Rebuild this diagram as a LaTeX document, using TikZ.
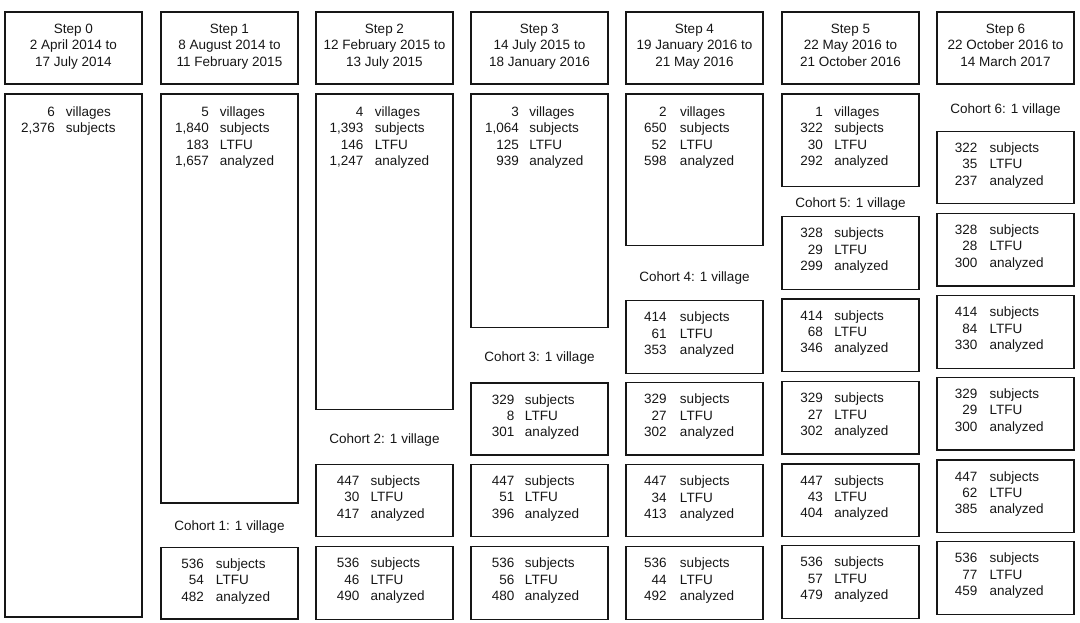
\documentclass[tikz,border=0pt]{standalone}
\usepackage{fontspec}
\setmainfont{Liberation Sans}
\definecolor{ink}{HTML}{161616}
\newlength\gapw
\newcommand\rw[2]{\makebox[40pt][r]{#1}\hspace{\gapw}#2}
% \bx{name}{x0}{ytop}{ybot}
\newcommand\bx[4]{\node[boxst, minimum height={(#4-#3)*1pt}] (#1) at ({#2+68.5},{(#3+#4)/2}) {};}
% \tx{name}{x0}{ytop}{baseoffset}{numoff}{laboff}{rows}
\newcommand\tx[7]{\setlength\gapw{\dimexpr #6pt-#5pt\relax}\node[txt, anchor=base west] (#1) at ({#2+#5-40},{#3+#4}) {\begin{tabular}[t]{@{}l@{}}#7\end{tabular}};}
\begin{document}
\begin{tikzpicture}[x=1pt,y=-1pt,
  boxst/.style={draw=ink, line width=1.35pt, minimum width=137pt, inner sep=0pt, outer sep=0pt},
  txt/.style={inner sep=0pt, outer sep=0pt, text=ink, font=\fontsize{13.5}{16.4}\selectfont},
  hdtxt/.style={inner sep=0pt, outer sep=0pt, text=ink, font=\fontsize{13.5}{16.7}\selectfont, anchor=base},
  cohort/.style={inner sep=0pt, outer sep=0pt, text=ink, font=\fontsize{13.5}{16}\selectfont, anchor=base}]
\useasboundingbox (0,0) rectangle (1080,623);
% headers
\foreach \i/\xx/\a/\b in {0/5/2 April 2014 to/17 July 2014,
  1/161/8 August 2014 to/11 February 2015,
  2/316/12 February 2015 to/13 July 2015,
  3/471/14 July 2015 to/18 January 2016,
  4/626/19 January 2016 to/21 May 2016,
  5/782/22 May 2016 to/21 October 2016,
  6/937/22 October 2016 to/14 March 2017}{
  \node[boxst, minimum height=72pt] (h\i) at ({\xx+68.5},48) {};
  \node[hdtxt] (ht\i) at ({\xx+68.5},33.3) {\begin{tabular}[t]{@{}c@{}}Step \i\\\a\\\b\end{tabular}};
}
% column 0
\bx{b0}{5}{94}{617}
\tx{t0}{5}{94}{22.5}{50}{61}{\rw{6}{villages}\\\rw{2,376}{subjects}}
% column 1
\bx{b1}{161}{94}{503}
\tx{t1}{161}{94}{22.5}{48}{59}{\rw{5}{villages}\\\rw{1,840}{subjects}\\\rw{183}{LTFU}\\\rw{1,657}{analyzed}}
\node[cohort] (c1) at (229.5,530.7) {Cohort 1: 1 village};
\bx{b1a}{161}{547.3}{619}
\tx{t1a}{161}{547.3}{21}{43}{55}{\rw{536}{subjects}\\\rw{54}{LTFU}\\\rw{482}{analyzed}}
% column 2
\bx{b2}{316}{94}{409.3}
\tx{t2}{316}{94}{22.5}{47.3}{59}{\rw{4}{villages}\\\rw{1,393}{subjects}\\\rw{146}{LTFU}\\\rw{1,247}{analyzed}}
\node[cohort] (c2) at (384.5,443.3) {Cohort 2: 1 village};
\bx{b2a}{316}{464.3}{536.7}
\tx{t2a}{316}{464.3}{21}{43.3}{54.7}{\rw{447}{subjects}\\\rw{30}{LTFU}\\\rw{417}{analyzed}}
\bx{b2b}{316}{546.7}{619.3}
\tx{t2b}{316}{546.7}{21}{43.3}{54.7}{\rw{536}{subjects}\\\rw{46}{LTFU}\\\rw{490}{analyzed}}
% column 3
\bx{b3}{471}{94}{327.3}
\tx{t3}{471}{94}{22.5}{48}{58.3}{\rw{3}{villages}\\\rw{1,064}{subjects}\\\rw{125}{LTFU}\\\rw{939}{analyzed}}
\node[cohort] (c3) at (539.5,361) {Cohort 3: 1 village};
\bx{b3a}{471}{383}{455}
\tx{t3a}{471}{383}{21}{43.3}{54}{\rw{329}{subjects}\\\rw{8}{LTFU}\\\rw{301}{analyzed}}
\bx{b3b}{471}{464.3}{536.7}
\tx{t3b}{471}{464.3}{21}{43.3}{54}{\rw{447}{subjects}\\\rw{51}{LTFU}\\\rw{396}{analyzed}}
\bx{b3c}{471}{546.7}{619.3}
\tx{t3c}{471}{546.7}{21}{43.3}{54}{\rw{536}{subjects}\\\rw{56}{LTFU}\\\rw{480}{analyzed}}
% column 4
\bx{b4}{626}{94}{245.7}
\tx{t4}{626}{94}{22.5}{40.7}{54}{\rw{2}{villages}\\\rw{650}{subjects}\\\rw{52}{LTFU}\\\rw{598}{analyzed}}
\node[cohort] (c4) at (694.5,281.7) {Cohort 4: 1 village};
\bx{b4a}{626}{300.7}{373.3}
\tx{t4a}{626}{300.7}{21}{40.7}{54}{\rw{414}{subjects}\\\rw{61}{LTFU}\\\rw{353}{analyzed}}
\bx{b4b}{626}{382.7}{455}
\tx{t4b}{626}{382.7}{21}{40.7}{54}{\rw{329}{subjects}\\\rw{27}{LTFU}\\\rw{302}{analyzed}}
\bx{b4c}{626}{464.7}{536.7}
\tx{t4c}{626}{464.7}{21}{40.7}{54}{\rw{447}{subjects}\\\rw{34}{LTFU}\\\rw{413}{analyzed}}
\bx{b4d}{626}{546.7}{619.3}
\tx{t4d}{626}{546.7}{21}{40.7}{54}{\rw{536}{subjects}\\\rw{44}{LTFU}\\\rw{492}{analyzed}}
% column 5
\bx{b5}{782}{94}{186.7}
\tx{t5}{782}{94}{22.5}{41}{52.3}{\rw{1}{villages}\\\rw{322}{subjects}\\\rw{30}{LTFU}\\\rw{292}{analyzed}}
\node[cohort] (c5) at (850.5,207.5) {Cohort 5: 1 village};
\bx{b5a}{782}{216.7}{289.3}
\tx{t5a}{782}{216.7}{21}{41}{52.3}{\rw{328}{subjects}\\\rw{29}{LTFU}\\\rw{299}{analyzed}}
\bx{b5b}{782}{299}{371.7}
\tx{t5b}{782}{299}{21}{41}{52.3}{\rw{414}{subjects}\\\rw{68}{LTFU}\\\rw{346}{analyzed}}
\bx{b5c}{782}{381.7}{454}
\tx{t5c}{782}{381.7}{21}{41}{52.3}{\rw{329}{subjects}\\\rw{27}{LTFU}\\\rw{302}{analyzed}}
\bx{b5d}{782}{464}{536.7}
\tx{t5d}{782}{464}{21}{41}{52.3}{\rw{447}{subjects}\\\rw{43}{LTFU}\\\rw{404}{analyzed}}
\bx{b5e}{782}{545.7}{618.3}
\tx{t5e}{782}{545.7}{21}{41}{52.3}{\rw{536}{subjects}\\\rw{57}{LTFU}\\\rw{479}{analyzed}}
% column 6
\node[cohort] (c6) at (1005.5,113.3) {Cohort 6: 1 village};
\bx{b6a}{937}{131.3}{203.7}
\tx{t6a}{937}{131.3}{21}{40.4}{52.7}{\rw{322}{subjects}\\\rw{35}{LTFU}\\\rw{237}{analyzed}}
\bx{b6b}{937}{213.3}{286}
\tx{t6b}{937}{213.3}{21}{40.4}{52.7}{\rw{328}{subjects}\\\rw{28}{LTFU}\\\rw{300}{analyzed}}
\bx{b6c}{937}{295.7}{368.3}
\tx{t6c}{937}{295.7}{21}{40.4}{52.7}{\rw{414}{subjects}\\\rw{84}{LTFU}\\\rw{330}{analyzed}}
\bx{b6d}{937}{377.3}{450}
\tx{t6d}{937}{377.3}{21}{40.4}{52.7}{\rw{329}{subjects}\\\rw{29}{LTFU}\\\rw{300}{analyzed}}
\bx{b6e}{937}{460}{532.7}
\tx{t6e}{937}{460}{21}{40.4}{52.7}{\rw{447}{subjects}\\\rw{62}{LTFU}\\\rw{385}{analyzed}}
\bx{b6f}{937}{541.7}{614.3}
\tx{t6f}{937}{541.7}{21}{40.4}{52.7}{\rw{536}{subjects}\\\rw{77}{LTFU}\\\rw{459}{analyzed}}
\end{tikzpicture}
\end{document}
